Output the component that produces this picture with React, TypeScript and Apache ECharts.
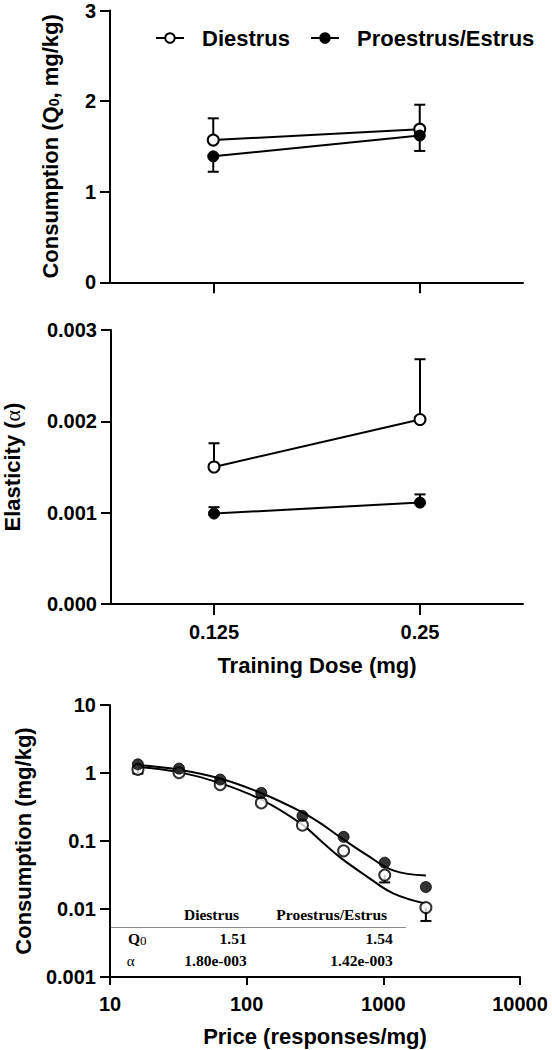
import React, { useEffect, useRef } from "react";
import * as echarts from "echarts";

// ---------- data ----------
const doseCategories = ["0.125", "0.25"];
const q0Diestrus = [1.57, 1.69];
const q0DiestrusErr = [1.81, 1.96];
const q0Proestrus = [1.39, 1.62];
const q0ProestrusErr = [1.22, 1.45];

const alphaDiestrus = [0.0015, 0.00202];
const alphaDiestrusErr = [0.00176, 0.00268];
const alphaProestrus = [0.00099, 0.00111];
const alphaProestrusErr = [0.00106, 0.0012];

const prices = [16, 32, 64, 128, 256, 512, 1024, 2048];
const consDiestrus = [1.13, 1.01, 0.675, 0.363, 0.171, 0.0717, 0.0315, 0.0105];
const consDiestrusErr = [0.98, null, null, null, null, null, 0.0246, 0.00667];
const consProestrus = [1.34, 1.16, 0.8, 0.51, 0.234, 0.115, 0.048, 0.021];

const curvePrices = [16, 32, 64, 130, 250, 350, 480, 760, 1180, 2048];
const curveDiestrus = [1.23, 1.03, 0.71, 0.4, 0.18, 0.1, 0.058, 0.03, 0.017, 0.012];
const curveProestrus = [1.31, 1.12, 0.83, 0.5, 0.27, 0.18, 0.115, 0.062, 0.037, 0.031];

const tableGroups = ["Diestrus", "Proestrus/Estrus"];
const tableQ0 = ["1.51", "1.54"];
const tableAlpha = ["1.80e-003", "1.42e-003"];

// ---------- styling ----------
const SANS = "'Liberation Sans', Arial, sans-serif";
const SERIF = "'Liberation Serif', 'Times New Roman', serif";
const BLACK = "#000";

const axisLine = { show: true, lineStyle: { color: BLACK, width: 2 } };
const tickLabel = (extra: any = {}) => ({
  color: BLACK,
  fontFamily: SANS,
  fontWeight: "bold",
  fontSize: 20,
  lineHeight: 16,
  ...extra,
});
const nameStyle = (extra: any = {}) => ({
  color: BLACK,
  fontFamily: SANS,
  fontWeight: "bold",
  fontSize: 22,
  ...extra,
});

const openItem = { color: "#fff", borderColor: BLACK, borderWidth: 2 };
const filledItem = { color: BLACK, borderColor: BLACK, borderWidth: 1 };

function errRender(params: any, api: any) {
  const x = api.value(0);
  const y = api.value(1);
  const e = api.value(2);
  if (e == null || isNaN(e)) return null;
  const p1 = api.coord([x, y]);
  const p2 = api.coord([x, e]);
  const st = { stroke: BLACK, lineWidth: 2 };
  return {
    type: "group",
    children: [
      { type: "line", shape: { x1: p1[0], y1: p1[1], x2: p2[0], y2: p2[1] }, style: st },
      { type: "line", shape: { x1: p2[0] - 5.5, y1: p2[1], x2: p2[0] + 5.5, y2: p2[1] }, style: st },
    ],
  };
}

function logLabel(v: number) {
  return String(parseFloat(Number(v).toPrecision(6)));
}

function buildOption() {
  const catErr = (vals: number[], errs: number[]) => vals.map((v, i) => [i, v, errs[i]]);
  const lineSeries = (name: string, data: number[], idx: number, open: boolean) => ({
    type: "line",
    name,
    xAxisIndex: idx,
    yAxisIndex: idx,
    data,
    symbol: "circle",
    symbolSize: 11,
    itemStyle: open ? openItem : filledItem,
    lineStyle: { color: BLACK, width: 2 },
    z: 3,
    emphasis: { disabled: true },
  });
  const errSeries = (data: any[], idx: number) => ({
    type: "custom",
    xAxisIndex: idx,
    yAxisIndex: idx,
    renderItem: errRender,
    data,
    encode: { x: 0, y: [1, 2] },
    z: 1,
    silent: true,
  });

  const tableFont = { fontFamily: SERIF, fontWeight: "bold", fontSize: 15.5, fill: BLACK };

  return {
    animation: false,
    backgroundColor: "#fff",
    legend: {
      data: ["Diestrus", "Proestrus/Estrus"],
      left: 150,
      top: 21,
      itemWidth: 28,
      itemHeight: 12,
      itemGap: 20,
      selectedMode: false,
      textStyle: {
        color: BLACK,
        fontFamily: SANS,
        fontWeight: "bold",
        fontSize: 22,
        lineHeight: 24,
        padding: [0, 0, 0, 13],
      },
    },
    grid: [
      { left: 110, top: 10.5, width: 413, height: 271.8, outerBoundsMode: "none", containLabel: false },
      { left: 111, top: 330, width: 412, height: 274, outerBoundsMode: "none", containLabel: false },
      { left: 110, top: 705, width: 410, height: 272, outerBoundsMode: "none", containLabel: false },
    ],
    xAxis: [
      {
        type: "category",
        gridIndex: 0,
        data: doseCategories,
        boundaryGap: true,
        axisLine,
        axisTick: { show: true, alignWithLabel: true, length: 11, lineStyle: { color: BLACK, width: 2 } },
        axisLabel: { show: false },
        splitLine: { show: false },
      },
      {
        type: "category",
        gridIndex: 1,
        data: doseCategories,
        boundaryGap: true,
        axisLine,
        axisTick: { show: true, alignWithLabel: true, length: 11, lineStyle: { color: BLACK, width: 2 } },
        axisLabel: tickLabel({ margin: 20 }),
        splitLine: { show: false },
        name: "Training Dose (mg)",
        nameLocation: "middle",
        nameGap: 50,
        nameTextStyle: nameStyle(),
      },
      {
        type: "log",
        gridIndex: 2,
        logBase: 10,
        min: 10,
        max: 10000,
        axisLine,
        axisTick: { show: true, length: 8, lineStyle: { color: BLACK, width: 2 } },
        minorTick: { show: false },
        axisLabel: tickLabel({ margin: 19, formatter: logLabel }),
        splitLine: { show: false },
        name: "Price (responses/mg)",
        nameLocation: "middle",
        nameGap: 48,
        nameTextStyle: nameStyle(),
      },
    ],
    yAxis: [
      {
        type: "value",
        gridIndex: 0,
        min: 0,
        max: 3,
        interval: 1,
        axisLine,
        axisTick: { show: true, length: 10, lineStyle: { color: BLACK, width: 2 } },
        axisLabel: tickLabel({ margin: 14 }),
        splitLine: { show: false },
        name: "Consumption (Q{sub|0}, mg/kg)",
        nameLocation: "middle",
        nameGap: 49,
        nameRotate: 90,
        nameTextStyle: nameStyle({
          lineHeight: 22,
          rich: {
            sub: { fontFamily: SANS, fontWeight: "bold", fontSize: 14, color: BLACK, verticalAlign: "bottom", lineHeight: 22 },
          },
        }),
      },
      {
        type: "value",
        gridIndex: 1,
        min: 0,
        max: 0.003,
        interval: 0.001,
        axisLine,
        axisTick: { show: true, length: 10, lineStyle: { color: BLACK, width: 2 } },
        axisLabel: tickLabel({ margin: 14, formatter: (v: number) => v.toFixed(3) }),
        splitLine: { show: false },
        name: "Elasticity ({a|α})",
        nameLocation: "middle",
        nameGap: 88,
        nameRotate: 90,
        nameTextStyle: nameStyle({
          rich: { a: { fontFamily: SERIF, fontWeight: "normal", fontSize: 22, color: BLACK } },
        }),
      },
      {
        type: "log",
        gridIndex: 2,
        logBase: 10,
        min: 0.001,
        max: 10,
        axisLine,
        axisTick: { show: true, length: 10, lineStyle: { color: BLACK, width: 2 } },
        minorTick: { show: false },
        axisLabel: tickLabel({ margin: 14, formatter: logLabel }),
        splitLine: { show: false },
        name: "Consumption (mg/kg)",
        nameLocation: "middle",
        nameGap: 76,
        nameRotate: 90,
        nameTextStyle: nameStyle(),
      },
    ],
    series: [
      errSeries(catErr(q0Diestrus, q0DiestrusErr), 0),
      errSeries(catErr(q0Proestrus, q0ProestrusErr), 0),
      lineSeries("Diestrus", q0Diestrus, 0, true),
      lineSeries("Proestrus/Estrus", q0Proestrus, 0, false),

      errSeries(catErr(alphaDiestrus, alphaDiestrusErr), 1),
      errSeries(catErr(alphaProestrus, alphaProestrusErr), 1),
      lineSeries("Diestrus", alphaDiestrus, 1, true),
      lineSeries("Proestrus/Estrus", alphaProestrus, 1, false),

      errSeries(
        prices.map((p, i) => [p, consDiestrus[i], consDiestrusErr[i]]).filter((d) => d[2] != null),
        2
      ),
      {
        type: "line",
        name: "Diestrus fit",
        xAxisIndex: 2,
        yAxisIndex: 2,
        data: curvePrices.map((p, i) => [p, curveDiestrus[i]]),
        showSymbol: false,
        symbol: "none",
        smooth: 0.4,
        lineStyle: { color: BLACK, width: 2 },
        z: 2,
        silent: true,
      },
      {
        type: "line",
        name: "Proestrus/Estrus fit",
        xAxisIndex: 2,
        yAxisIndex: 2,
        data: curvePrices.map((p, i) => [p, curveProestrus[i]]),
        showSymbol: false,
        symbol: "none",
        smooth: 0.4,
        lineStyle: { color: BLACK, width: 2 },
        z: 2,
        silent: true,
      },
      {
        type: "scatter",
        name: "Diestrus",
        xAxisIndex: 2,
        yAxisIndex: 2,
        data: prices.map((p, i) => [p, consDiestrus[i]]),
        symbol: "circle",
        symbolSize: 11,
        itemStyle: openItem,
        z: 3,
        emphasis: { disabled: true },
      },
      {
        type: "scatter",
        name: "Proestrus/Estrus",
        xAxisIndex: 2,
        yAxisIndex: 2,
        data: prices.map((p, i) => [p, consProestrus[i]]),
        symbol: "circle",
        symbolSize: 11,
        itemStyle: filledItem,
        z: 4,
        emphasis: { disabled: true },
      },
    ],
    graphic: [
      { type: "text", x: 211.5, y: 914, style: { ...tableFont, text: tableGroups[0], align: "center", verticalAlign: "middle" } },
      { type: "text", x: 331.7, y: 914, style: { ...tableFont, text: tableGroups[1], align: "center", verticalAlign: "middle" } },
      { type: "line", shape: { x1: 111, y1: 927.5, x2: 406, y2: 927.5 }, style: { stroke: "#8a8a8a", lineWidth: 1 } },
      {
        type: "text",
        x: 128,
        y: 938.3,
        style: {
          text: "{q|Q}{s|0}",
          verticalAlign: "middle",
          rich: {
            q: { fontFamily: SERIF, fontWeight: "bold", fontSize: 15.5, fill: BLACK, lineHeight: 18 },
            s: { fontFamily: SERIF, fontWeight: "normal", fontSize: 13, fill: BLACK, verticalAlign: "bottom", lineHeight: 18 },
          },
        },
      },
      { type: "text", x: 246.7, y: 938.3, style: { ...tableFont, text: tableQ0[0], align: "right", verticalAlign: "middle" } },
      { type: "text", x: 392.7, y: 938.3, style: { ...tableFont, text: tableQ0[1], align: "right", verticalAlign: "middle" } },
      { type: "text", x: 126.7, y: 960.7, style: { fontFamily: SERIF, fontWeight: "normal", fontSize: 15, fill: BLACK, text: "α", align: "left", verticalAlign: "middle" } },
      { type: "text", x: 246.7, y: 960.7, style: { ...tableFont, text: tableAlpha[0], align: "right", verticalAlign: "middle" } },
      { type: "text", x: 392.7, y: 960.7, style: { ...tableFont, text: tableAlpha[1], align: "right", verticalAlign: "middle" } },
    ],
  };
}

export default function App() {
  const ref = useRef<HTMLDivElement>(null);
  useEffect(() => {
    if (!ref.current) return;
    const chart = echarts.init(ref.current, null, { renderer: "svg" });
    chart.setOption(buildOption() as any);
    return () => chart.dispose();
  }, []);
  return (
    <div
      ref={ref}
      style={{ position: "absolute", left: 0, top: 0, width: 552, height: 1050, background: "#fff" }}
    />
  );
}
